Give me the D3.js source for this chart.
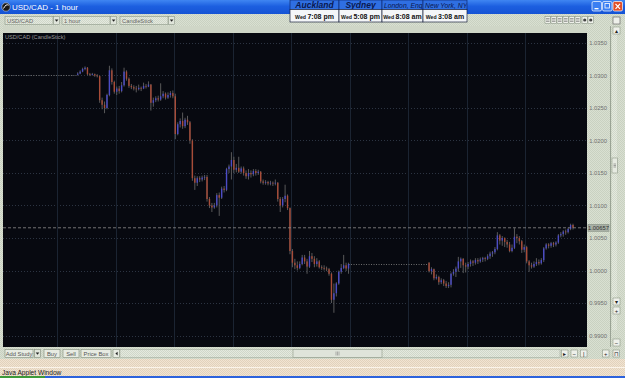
<!DOCTYPE html>
<html>
<head>
<meta charset="utf-8">
<script src="https://cdn.jsdelivr.net/npm/d3@7"></script>
<style>
  body { margin: 0; background: #ece0ce; overflow: hidden; }
  svg { display: block; font-family: "Liberation Sans", Arial, sans-serif; }
</style>
</head>
<body>
<script>
// ---- data ----
const dayLabels = ["Sep 16", "Sep 17", "Sep 18", "Sep 19", "Sep 20", "Sep 21", "Sep 23", "Sep 24", "Sep 25", "Sep 26"];
const priceTicks = [0.99, 0.995, 1.0, 1.005, 1.01, 1.015, 1.02, 1.025, 1.03, 1.035];

// two trading sessions (hour slot where each starts, number of hourly bars)
const sessionStarts = [32, 176];
const sessionLengths = [112, 60];

const opens = [
  1.0301, 1.0303, 1.0306, 1.0310, 1.0312, 1.0302, 1.0301, 1.0302, 1.0300, 1.0299,
  1.0262, 1.0255, 1.0250, 1.0270, 1.0308, 1.0290, 1.0275, 1.0280, 1.0276, 1.0285,
  1.0306, 1.0295, 1.0284, 1.0282, 1.0280, 1.0279, 1.0281, 1.0280, 1.0284, 1.0283,
  1.0286, 1.0258, 1.0262, 1.0265, 1.0263, 1.0268, 1.0272, 1.0266, 1.0270, 1.0273,
  1.0268, 1.0210, 1.0225, 1.0230, 1.0222, 1.0232, 1.0228, 1.0200, 1.0142, 1.0135,
  1.0142, 1.0140, 1.0143, 1.0144, 1.0110, 1.0100, 1.0097, 1.0100, 1.0116, 1.0112,
  1.0126, 1.0124, 1.0156, 1.0160, 1.0170, 1.0155, 1.0158, 1.0152, 1.0157, 1.0150,
  1.0145, 1.0150, 1.0148, 1.0153, 1.0150, 1.0152, 1.0137, 1.0135, 1.0136, 1.0134,
  1.0135, 1.0134, 1.0135, 1.0110, 1.0100, 1.0110, 1.0115, 1.0096, 1.0030, 1.0012,
  1.0008, 1.0004, 1.0010, 1.0020, 1.0014, 1.0006, 1.0022, 1.0018, 1.0010, 1.0014,
  1.0005, 1.0004, 1.0003, 1.0002, 0.9995, 0.9955, 0.9965, 0.9980, 0.9998, 1.0004,
  1.0008, 1.0003,
  1.0012, 0.9999, 1.0002, 0.9988, 0.9990, 0.9982, 0.9985, 0.9980, 0.9976, 0.9978,
  0.9995, 0.9998, 1.0003, 1.0014, 1.0018, 1.0008, 1.0006, 1.0010, 1.0014, 1.0012,
  1.0016, 1.0014, 1.0017, 1.0019, 1.0018, 1.0022, 1.0026, 1.0028, 1.0033, 1.0054,
  1.0046, 1.0050, 1.0044, 1.0040, 1.0030, 1.0035, 1.0052, 1.0050, 1.0045, 1.0032,
  1.0036, 1.0014, 1.0008, 1.0006, 1.0010, 1.0013, 1.0011, 1.0016, 1.0034, 1.0040,
  1.0038, 1.0042, 1.0040, 1.0043, 1.0054, 1.0056, 1.0060, 1.0059, 1.0064, 1.0070
];
const highs = [
  1.0305, 1.0308, 1.0312, 1.0314, 1.0313, 1.0304, 1.0304, 1.0303, 1.0302, 1.0300,
  1.0266, 1.0260, 1.0272, 1.0315, 1.0311, 1.0292, 1.0283, 1.0284, 1.0290, 1.0312,
  1.0308, 1.0297, 1.0287, 1.0285, 1.0284, 1.0286, 1.0283, 1.0289, 1.0287, 1.0291,
  1.0287, 1.0266, 1.0268, 1.0269, 1.0288, 1.0276, 1.0274, 1.0274, 1.0276, 1.0277,
  1.0272, 1.0228, 1.0234, 1.0243, 1.0235, 1.0238, 1.0230, 1.0202, 1.0146, 1.0145,
  1.0145, 1.0146, 1.0147, 1.0147, 1.0113, 1.0104, 1.0104, 1.0119, 1.0120, 1.0129,
  1.0130, 1.0158, 1.0163, 1.0182, 1.0175, 1.0164, 1.0175, 1.0160, 1.0160, 1.0154,
  1.0156, 1.0154, 1.0156, 1.0156, 1.0155, 1.0153, 1.0140, 1.0139, 1.0138, 1.0138,
  1.0137, 1.0140, 1.0136, 1.0113, 1.0113, 1.0132, 1.0117, 1.0097, 1.0033, 1.0018,
  1.0014, 1.0014, 1.0024, 1.0024, 1.0018, 1.0030, 1.0027, 1.0022, 1.0019, 1.0016,
  1.0008, 1.0008, 1.0006, 1.0004, 0.9997, 0.9980, 0.9982, 1.0000, 1.0010, 1.0024,
  1.0012, 1.0012,
  1.0013, 1.0005, 1.0003, 0.9994, 0.9992, 0.9988, 0.9987, 0.9984, 0.9982, 0.9997,
  1.0002, 1.0006, 1.0021, 1.0020, 1.0019, 1.0012, 1.0013, 1.0017, 1.0016, 1.0019,
  1.0019, 1.0020, 1.0021, 1.0021, 1.0025, 1.0029, 1.0030, 1.0036, 1.0059, 1.0056,
  1.0053, 1.0051, 1.0047, 1.0044, 1.0040, 1.0065, 1.0056, 1.0053, 1.0047, 1.0040,
  1.0038, 1.0016, 1.0012, 1.0014, 1.0019, 1.0017, 1.0019, 1.0036, 1.0042, 1.0042,
  1.0044, 1.0044, 1.0045, 1.0056, 1.0059, 1.0062, 1.0063, 1.0066, 1.0072, 1.0072
];
const lows = [
  1.0300, 1.0302, 1.0305, 1.0308, 1.0300, 1.0299, 1.0300, 1.0298, 1.0297, 1.0258,
  1.0248, 1.0242, 1.0248, 1.0268, 1.0286, 1.0272, 1.0270, 1.0272, 1.0274, 1.0283,
  1.0292, 1.0281, 1.0279, 1.0277, 1.0274, 1.0277, 1.0276, 1.0279, 1.0280, 1.0282,
  1.0246, 1.0252, 1.0259, 1.0260, 1.0261, 1.0265, 1.0263, 1.0264, 1.0266, 1.0265,
  1.0202, 1.0208, 1.0220, 1.0218, 1.0219, 1.0224, 1.0195, 1.0138, 1.0124, 1.0130,
  1.0136, 1.0137, 1.0139, 1.0106, 1.0096, 1.0090, 1.0095, 1.0097, 1.0084, 1.0110,
  1.0120, 1.0122, 1.0150, 1.0140, 1.0150, 1.0151, 1.0150, 1.0149, 1.0146, 1.0141,
  1.0140, 1.0143, 1.0145, 1.0146, 1.0147, 1.0134, 1.0132, 1.0132, 1.0131, 1.0131,
  1.0130, 1.0131, 1.0106, 1.0090, 1.0097, 1.0105, 1.0093, 1.0025, 1.0005, 1.0002,
  1.0000, 1.0002, 1.0008, 1.0010, 0.9995, 1.0004, 1.0013, 1.0005, 1.0006, 1.0003,
  1.0001, 1.0000, 0.9999, 0.9992, 0.9950, 0.9935, 0.9960, 0.9978, 0.9995, 1.0002,
  0.9999, 0.9995,
  0.9997, 0.9994, 0.9985, 0.9986, 0.9978, 0.9979, 0.9976, 0.9973, 0.9973, 0.9974,
  0.9992, 0.9990, 0.9998, 1.0004, 0.9996, 0.9997, 1.0002, 1.0006, 1.0007, 1.0009,
  1.0010, 1.0012, 1.0013, 1.0014, 1.0016, 1.0018, 1.0021, 1.0025, 1.0031, 1.0040,
  1.0038, 1.0036, 1.0035, 1.0028, 1.0028, 1.0033, 1.0042, 1.0040, 1.0027, 1.0028,
  1.0011, 0.9998, 1.0003, 1.0004, 1.0007, 1.0008, 1.0009, 1.0013, 1.0032, 1.0034,
  1.0035, 1.0036, 1.0037, 1.0041, 1.0051, 1.0052, 1.0055, 1.0057, 1.0062, 1.0063
];
const closes = [
  1.0303, 1.0306, 1.0310, 1.0312, 1.0302, 1.0301, 1.0302, 1.0300, 1.0299, 1.0262,
  1.0255, 1.0250, 1.0270, 1.0308, 1.0290, 1.0275, 1.0280, 1.0276, 1.0285, 1.0306,
  1.0295, 1.0284, 1.0282, 1.0280, 1.0279, 1.0281, 1.0280, 1.0284, 1.0283, 1.0286,
  1.0258, 1.0262, 1.0265, 1.0263, 1.0268, 1.0272, 1.0266, 1.0270, 1.0273, 1.0268,
  1.0210, 1.0225, 1.0230, 1.0222, 1.0232, 1.0228, 1.0200, 1.0142, 1.0135, 1.0142,
  1.0140, 1.0143, 1.0144, 1.0110, 1.0100, 1.0097, 1.0100, 1.0116, 1.0112, 1.0126,
  1.0124, 1.0156, 1.0160, 1.0170, 1.0155, 1.0158, 1.0152, 1.0157, 1.0150, 1.0145,
  1.0150, 1.0148, 1.0153, 1.0150, 1.0152, 1.0137, 1.0135, 1.0136, 1.0134, 1.0135,
  1.0134, 1.0135, 1.0110, 1.0100, 1.0110, 1.0115, 1.0096, 1.0030, 1.0012, 1.0008,
  1.0004, 1.0010, 1.0020, 1.0014, 1.0006, 1.0022, 1.0018, 1.0010, 1.0014, 1.0005,
  1.0004, 1.0003, 1.0002, 0.9995, 0.9955, 0.9965, 0.9980, 0.9998, 1.0004, 1.0008,
  1.0003, 1.0010,
  0.9999, 1.0002, 0.9988, 0.9990, 0.9982, 0.9985, 0.9980, 0.9976, 0.9978, 0.9995,
  0.9998, 1.0003, 1.0014, 1.0018, 1.0008, 1.0006, 1.0010, 1.0014, 1.0012, 1.0016,
  1.0014, 1.0017, 1.0019, 1.0018, 1.0022, 1.0026, 1.0028, 1.0033, 1.0054, 1.0046,
  1.0050, 1.0044, 1.0040, 1.0030, 1.0035, 1.0052, 1.0050, 1.0045, 1.0032, 1.0036,
  1.0014, 1.0008, 1.0006, 1.0010, 1.0013, 1.0011, 1.0016, 1.0034, 1.0040, 1.0038,
  1.0042, 1.0040, 1.0043, 1.0054, 1.0056, 1.0060, 1.0059, 1.0064, 1.0070, 1.00657
];

// flat, no-trade stretches drawn as dotted lines (hour slots + price)
const flatFrom = [0, 143.5];
const flatTo = [32, 176];
const flatPrice = [1.0301, 1.0010];

const lastPrice = 1.00657;

const clockCities = ["Auckland", "Sydney", "London, Eng", "New York, NY"];
const clockDays = ["Wed", "Wed", "Wed", "Wed"];
const clockTimes = ["7:08 pm", "5:08 pm", "8:08 am", "3:08 am"];

// ---- layout ----
const W = 625, H = 378;
const chart = { left: 3, right: 587, top: 33, bottom: 347 };

const svg = d3.select("body").append("svg").attr("width", W).attr("height", H);
const defs = svg.append("defs");

// dithered panel textures
function dither(id, a, b) {
  const p = defs.append("pattern").attr("id", id).attr("width", 2).attr("height", 2)
    .attr("patternUnits", "userSpaceOnUse");
  p.append("rect").attr("width", 2).attr("height", 2).attr("fill", a);
  p.append("rect").attr("width", 1).attr("height", 1).attr("fill", b);
  p.append("rect").attr("x", 1).attr("y", 1).attr("width", 1).attr("height", 1).attr("fill", b);
}
dither("panel", "#d9e0d2", "#c9d1c1");
dither("peach", "#f1e4d2", "#e2d2bc");
dither("track", "#e4e9df", "#d0d7c9");

const tg = defs.append("linearGradient").attr("id", "titleGrad").attr("x1", 0).attr("x2", 0).attr("y1", 0).attr("y2", 1);
tg.append("stop").attr("offset", "0%").attr("stop-color", "#3f86f2");
tg.append("stop").attr("offset", "45%").attr("stop-color", "#1c5fe0");
tg.append("stop").attr("offset", "100%").attr("stop-color", "#1553d4");

defs.append("clipPath").attr("id", "plotClip").append("rect")
  .attr("x", chart.left).attr("y", chart.top)
  .attr("width", chart.right - chart.left).attr("height", chart.bottom - chart.top);
defs.append("clipPath").attr("id", "dateClip").append("rect")
  .attr("x", chart.left).attr("y", 26).attr("width", chart.right - chart.left).attr("height", 7);

// window body
svg.append("rect").attr("width", W).attr("height", H).attr("fill", "url(#panel)");

// title bar
svg.append("rect").attr("width", W).attr("height", 14).attr("fill", "url(#titleGrad)");
svg.append("circle").attr("cx", 6).attr("cy", 7).attr("r", 4.2).attr("fill", "#1a1a1a").attr("stroke", "#c8d4e8").attr("stroke-width", 0.6);
svg.append("path").attr("d", "M3.5,8.5 Q6,3.5 8.6,5.2").attr("fill", "none").attr("stroke", "#fff").attr("stroke-width", 1);
svg.append("text").attr("x", 12).attr("y", 10).attr("fill", "#fff")
  .attr("font-size", 8).text("USD/CAD - 1 hour");

// window buttons
[[592, "#3b7ff2"], [602.5, "#3b7ff2"], [613, "#e2502a"]].forEach(([x, c]) => {
  svg.append("rect").attr("x", x).attr("y", 1.5).attr("width", 9.5).attr("height", 9.5).attr("rx", 1.5)
    .attr("fill", c).attr("stroke", "#fff").attr("stroke-width", 0.7);
});
svg.append("rect").attr("x", 594.5).attr("y", 8).attr("width", 4).attr("height", 1.3).attr("fill", "#fff");
svg.append("rect").attr("x", 605).attr("y", 3.5).attr("width", 4.5).attr("height", 4.5).attr("fill", "none").attr("stroke", "#fff").attr("stroke-width", 0.8);
svg.append("path").attr("d", "M615.5,3.8 L620,8.8 M620,3.8 L615.5,8.8").attr("stroke", "#fff").attr("stroke-width", 1.2);

// world clocks
const cellX = [290, 339, 382, 423, 467];
clockCities.forEach((c, i) => {
  const x0 = cellX[i], w = cellX[i + 1] - cellX[i];
  defs.append("clipPath").attr("id", "clk" + i).append("rect")
    .attr("x", x0 + 0.5).attr("y", 0).attr("width", w - 1).attr("height", 10);
  svg.append("rect").attr("x", x0).attr("y", 0).attr("width", w).attr("height", 9.5)
    .attr("fill", "#2f6fe2").attr("stroke", "#0f2a70").attr("stroke-width", 0.7);
  const big = i < 2;
  svg.append("text").attr("clip-path", `url(#clk${i})`)
    .attr("x", big ? x0 + w / 2 : x0 + 2).attr("y", 7.8)
    .attr("text-anchor", big ? "middle" : "start")
    .attr("font-size", big ? 8.5 : 6.8).attr("font-weight", big ? "bold" : "normal")
    .attr("font-style", "italic").attr("fill", "#0a1850").text(c);
  svg.append("rect").attr("x", x0).attr("y", 9.5).attr("width", w).attr("height", 12.5)
    .attr("fill", "#f4f6f8").attr("stroke", "#1a2440").attr("stroke-width", 0.7);
  const t = svg.append("text").attr("x", x0 + w / 2).attr("y", 18.6).attr("text-anchor", "middle")
    .attr("font-weight", "bold").attr("fill", "#111");
  t.append("tspan").attr("font-size", 5.2).text(clockDays[i] + " ");
  t.append("tspan").attr("font-size", 7).text(clockTimes[i]);
});

// toolbar dropdowns
[["USD/CAD", 5], ["1 hour", 62], ["CandleStick", 120]].forEach(([label, x]) => {
  svg.append("rect").attr("x", x).attr("y", 16.5).attr("width", 48).attr("height", 8)
    .attr("fill", "url(#track)").attr("stroke", "#8d9887").attr("stroke-width", 0.6);
  svg.append("text").attr("x", x + 2).attr("y", 23).attr("font-size", 5.8).attr("fill", "#666").text(label);
  svg.append("rect").attr("x", x + 48.5).attr("y", 16.5).attr("width", 6).attr("height", 8)
    .attr("fill", "#dfe4da").attr("stroke", "#8d9887").attr("stroke-width", 0.6);
  svg.append("path").attr("d", `M${x + 49.8},19.6 h3.6 l-1.8,2.2 z`).attr("fill", "#222");
});

// toolbar icon buttons on the right
const iconX = [545, 551, 557, 563, 569, 575, 582, 588];
iconX.forEach((x, i) => {
  svg.append("rect").attr("x", x).attr("y", 16.5).attr("width", 5.5).attr("height", 7)
    .attr("fill", "#eef0ea").attr("stroke", "#7b8676").attr("stroke-width", 0.5);
  if (i >= 6) svg.append("circle").attr("cx", x + 2.75).attr("cy", 20).attr("r", 1.6).attr("fill", "#444");
  else svg.append("path").attr("d", `M${x + 1},18.5 h3.5 M${x + 1},20 h3.5 M${x + 1},21.5 h3.5`)
    .attr("stroke", "#555").attr("stroke-width", 0.5);
});
svg.append("rect").attr("x", 613).attr("y", 17).attr("width", 7).attr("height", 7)
  .attr("fill", "#eef0ea").attr("stroke", "#555").attr("stroke-width", 0.6);

// ---- scales ----
const x = d3.scaleLinear().domain([0, 240]).range([-1.6, 584]);
const y = d3.scaleLinear().domain([1.0, 1.035]).range([270.5, 43]);

// date strip
svg.append("rect").attr("x", chart.left).attr("y", 26).attr("width", chart.right - chart.left).attr("height", 7)
  .attr("fill", "#cfd6c7");
const dateAxis = d3.axisBottom(x)
  .tickValues(d3.range(0, 240, 24))
  .tickFormat((d, i) => dayLabels[i])
  .tickSize(7).tickPadding(0);
const dg = svg.append("g").attr("transform", "translate(0,26)").attr("clip-path", "url(#dateClip)").call(dateAxis);
dg.select(".domain").remove();
dg.selectAll(".tick line").attr("stroke", "#8a9484").attr("stroke-width", 0.8);
dg.selectAll(".tick text").attr("text-anchor", "start").attr("x", 1.8).attr("y", 5.8)
  .attr("dy", 0).attr("font-size", 5.6).attr("fill", "#6a6a6a").attr("font-family", "Liberation Sans, Arial, sans-serif");

// plot background
svg.append("rect").attr("x", chart.left).attr("y", chart.top)
  .attr("width", chart.right - chart.left).attr("height", chart.bottom - chart.top).attr("fill", "#070910");

const plot = svg.append("g").attr("clip-path", "url(#plotClip)");

// grid
plot.selectAll("line.hgrid").data(priceTicks).join("line").attr("class", "hgrid")
  .attr("x1", chart.left).attr("x2", chart.right)
  .attr("y1", d => Math.round(y(d)) + 0.5).attr("y2", d => Math.round(y(d)) + 0.5)
  .attr("stroke", "#2c3442").attr("stroke-dasharray", "1,2");
plot.selectAll("line.vgrid").data(d3.range(24, 240, 24)).join("line").attr("class", "vgrid")
  .attr("x1", d => Math.round(x(d)) + 0.5).attr("x2", d => Math.round(x(d)) + 0.5)
  .attr("y1", chart.top).attr("y2", chart.bottom)
  .attr("stroke", "#1b2432");

plot.append("text").attr("x", 5).attr("y", 39).attr("font-size", 5.6).attr("fill", "#9a9a9a")
  .text("USD/CAD (CandleStick)");

// flat stretches
plot.selectAll("line.flat").data(flatPrice).join("line").attr("class", "flat")
  .attr("x1", (d, i) => x(flatFrom[i])).attr("x2", (d, i) => x(flatTo[i]))
  .attr("y1", d => Math.round(y(d)) + 0.5).attr("y2", d => Math.round(y(d)) + 0.5)
  .attr("stroke", "#6e6e6e").attr("stroke-dasharray", "1,1.5");

// candles
const hours = [];
sessionStarts.forEach((s, k) => d3.range(sessionLengths[k]).forEach(j => hours.push(s + j)));
const candles = hours.map((h, i) => ({ h, o: opens[i], hi: highs[i], lo: lows[i], c: closes[i] }));

plot.selectAll("line.wick").data(candles).join("line").attr("class", "wick")
  .attr("x1", d => x(d.h + 0.5)).attr("x2", d => x(d.h + 0.5))
  .attr("y1", d => y(d.hi)).attr("y2", d => y(d.lo))
  .attr("stroke", "#626262").attr("stroke-width", 0.9);
plot.selectAll("rect.body").data(candles).join("rect").attr("class", "body")
  .attr("x", d => x(d.h + 0.5) - 0.7).attr("width", 1.4)
  .attr("y", d => y(Math.max(d.o, d.c)))
  .attr("height", d => Math.max(0.8, Math.abs(y(d.o) - y(d.c))))
  .attr("fill", d => d.c >= d.o ? "#4c4cc6" : "#a84c38");

// last price line
plot.append("line").attr("x1", chart.left).attr("x2", chart.right)
  .attr("y1", y(lastPrice)).attr("y2", y(lastPrice))
  .attr("stroke", "#8e8e8e").attr("stroke-dasharray", "3,2").attr("stroke-width", 0.8);

// price axis
const priceAxis = d3.axisLeft(y).tickValues(priceTicks).tickFormat(d3.format(".4f")).tickSize(0).tickPadding(0);
const pg = svg.append("g").attr("transform", "translate(607,0)").call(priceAxis);
pg.select(".domain").remove();
pg.selectAll(".tick text").attr("font-size", 5.8).attr("fill", "#707070").attr("font-family", "Liberation Sans, Arial, sans-serif");

svg.append("rect").attr("x", 588).attr("y", y(lastPrice) - 3.5).attr("width", 21).attr("height", 7)
  .attr("fill", "#a9b0a6").attr("stroke", "#7d857a").attr("stroke-width", 0.5);
svg.append("text").attr("x", 598.5).attr("y", y(lastPrice) + 2).attr("text-anchor", "middle")
  .attr("font-size", 5.8).attr("fill", "#303030").text(d3.format(".5f")(lastPrice));

// right panel separator + vertical scrollbar
svg.append("line").attr("x1", 610.5).attr("x2", 610.5).attr("y1", 26).attr("y2", 347).attr("stroke", "#9aa395");
svg.append("rect").attr("x", 612).attr("y", 34).attr("width", 5).attr("height", 296).attr("fill", "url(#track)");
svg.append("rect").attr("x", 612).attr("y", 158).attr("width", 5.5).attr("height", 15)
  .attr("fill", "#e6eae1").attr("stroke", "#7f8a79").attr("stroke-width", 0.5);
svg.append("path").attr("d", "M613.5,164 h2.5 M613.5,165.5 h2.5 M613.5,167 h2.5").attr("stroke", "#555").attr("stroke-width", 0.5);
[[27, "▴"], [298, "▾"], [307, "+"], [339, "−"]].forEach(([yy, s]) => {
  svg.append("rect").attr("x", 613).attr("y", yy).attr("width", 7).attr("height", 7)
    .attr("fill", "#eef0ea").attr("stroke", "#7f8a79").attr("stroke-width", 0.5);
  svg.append("text").attr("x", 616.5).attr("y", yy + 6).attr("text-anchor", "middle")
    .attr("font-size", 6).attr("fill", "#222").text(s);
});

// bottom toolbar
[["Add Study", 5, 28], ["Buy", 44, 16], ["Sell", 63, 16], ["Price Box", 81, 30]].forEach(([t, bx, bw]) => {
  svg.append("rect").attr("x", bx).attr("y", 349.5).attr("width", bw).attr("height", 8)
    .attr("fill", "#e7ebe2").attr("stroke", "#7f8a79").attr("stroke-width", 0.6);
  svg.append("text").attr("x", bx + bw / 2).attr("y", 355.8).attr("text-anchor", "middle")
    .attr("font-size", 5.8).attr("fill", "#555").text(t);
});
svg.append("rect").attr("x", 34.5).attr("y", 349.5).attr("width", 6).attr("height", 8)
  .attr("fill", "#dfe4da").attr("stroke", "#7f8a79").attr("stroke-width", 0.6);
svg.append("path").attr("d", "M35.7,352.5 h3.6 l-1.8,2.2 z").attr("fill", "#222");
svg.append("rect").attr("x", 113).attr("y", 349.5).attr("width", 6.5).attr("height", 8)
  .attr("fill", "#e7ebe2").attr("stroke", "#7f8a79").attr("stroke-width", 0.6);
svg.append("path").attr("d", "M117.6,351.8 v3.6 l-2.2,-1.8 z").attr("fill", "#222");
svg.append("rect").attr("x", 120).attr("y", 349.5).attr("width", 440).attr("height", 8)
  .attr("fill", "url(#track)").attr("stroke", "#9aa395").attr("stroke-width", 0.5);
svg.append("rect").attr("x", 293).attr("y", 349.5).attr("width", 89).attr("height", 8)
  .attr("fill", "#dfe4da").attr("stroke", "#7f8a79").attr("stroke-width", 0.5);
svg.append("path").attr("d", "M336,351.5 v4 M337.5,351.5 v4 M339,351.5 v4").attr("stroke", "#777").attr("stroke-width", 0.5);
[[561.5, "▸"], [571, "−"], [580.5, "|"], [602.5, "+"], [613, "⊓"]].forEach(([bx, s]) => {
  svg.append("rect").attr("x", bx).attr("y", 350).attr("width", 6.5).attr("height", 7)
    .attr("fill", "#eef0ea").attr("stroke", "#7f8a79").attr("stroke-width", 0.5);
  svg.append("text").attr("x", bx + 3.25).attr("y", 355.6).attr("text-anchor", "middle")
    .attr("font-size", 5.8).attr("fill", "#222").text(s);
});

// status area
svg.append("rect").attr("x", 0).attr("y", 359).attr("width", W).attr("height", 17).attr("fill", "url(#peach)");
svg.append("line").attr("x1", 0).attr("x2", W).attr("y1", 367.5).attr("y2", 367.5).attr("stroke", "#fbf4ea");
svg.append("text").attr("x", 2).attr("y", 374.5).attr("font-size", 6.6).attr("fill", "#1a1a1a").text("Java Applet Window");
svg.append("rect").attr("x", 0).attr("y", 376).attr("width", W).attr("height", 2).attr("fill", "#2c62dc");
svg.append("rect").attr("x", 0).attr("y", 376).attr("width", 45).attr("height", 2).attr("fill", "#3d9a3a");
</script>
</body>
</html>
